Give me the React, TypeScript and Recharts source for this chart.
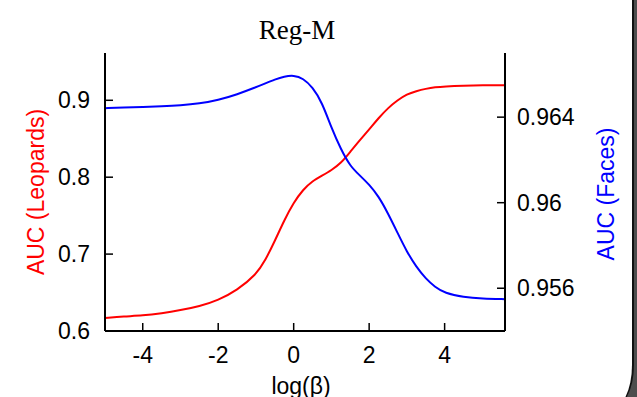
import { LineChart, Line, XAxis, YAxis } from 'recharts'

// log(beta) sample points and the two AUC curves
const logBeta = [
  -5, -4.5, -4, -3.5, -3, -2.5, -2, -1.5, -1, -0.75, -0.5, -0.25, 0, 0.25, 0.5, 0.75,
  1, 1.25, 1.5, 1.75, 2, 2.25, 2.5, 2.75, 3, 3.25, 3.5, 3.75, 4, 4.5, 5, 5.6,
]
const aucLeopards = [
  0.617, 0.619, 0.62, 0.623, 0.627, 0.632, 0.64, 0.653, 0.673, 0.692, 0.717, 0.744, 0.767, 0.784, 0.795, 0.802,
  0.809, 0.818, 0.833, 0.848, 0.862, 0.877, 0.89, 0.9, 0.908, 0.912, 0.915, 0.917, 0.918, 0.919, 0.9195, 0.9195,
]
const aucFaces = [
  0.96442, 0.96445, 0.96448, 0.96451, 0.96455, 0.96463, 0.9648, 0.96506, 0.9654, 0.96558, 0.96576, 0.9659, 0.96596, 0.96582, 0.9654, 0.9647,
  0.9635, 0.9625, 0.9617, 0.96128, 0.96085, 0.9603, 0.9595, 0.9586, 0.9577, 0.957, 0.95645, 0.95605, 0.95578, 0.95558, 0.95551, 0.95549,
]
const xTicks = [-4, -2, 0, 2, 4]
const leftTicks = [0.6, 0.7, 0.8, 0.9]
const rightTicks = [0.956, 0.96, 0.964]

const data = logBeta.map((x, i) => ({ x, leopards: aucLeopards[i], faces: aucFaces[i] }))

const SANS = '"Liberation Sans", Arial, Helvetica, sans-serif'
const tickStyle = { fill: '#000', fontSize: 23, fontFamily: SANS }
const axisLine = { stroke: '#000', strokeWidth: 2 }
const tickLine = { stroke: '#000', strokeWidth: 1.5 }

export default function App() {
  return (
    <div style={{ position: 'absolute', left: 0, top: 0, width: 637, height: 397, overflow: 'hidden', background: '#fff' }}>
      {/* window frame on the right edge */}
      <div style={{ position: 'absolute', left: 600, top: 0, width: 37, height: 397, background: '#4d4d4d' }} />
      <div
        style={{
          position: 'absolute', left: 0, top: -10, width: 632, height: 420,
          background: '#fff', borderRight: '2px solid #111',
          borderBottomRightRadius: '24px 45px',
        }}
      />

      <div style={{ position: 'absolute', left: 0, top: 0 }}>
        <LineChart width={637} height={397} data={data} margin={{ top: 53, right: 0, bottom: 0, left: 0 }}>
          <XAxis
            dataKey="x"
            type="number"
            domain={[-5, 5.6]}
            allowDataOverflow
            ticks={xTicks}
            height={66}
            tickSize={-8}
            tickMargin={24}
            tick={tickStyle}
            axisLine={axisLine}
            tickLine={tickLine}
          />
          <XAxis
            xAxisId="top"
            orientation="top"
            dataKey="x"
            type="number"
            domain={[-5, 5.6]}
            allowDataOverflow
            ticks={xTicks}
            height={0}
            tickSize={-8}
            tick={false}
            axisLine={axisLine}
            tickLine={tickLine}
          />
          <YAxis
            yAxisId="left"
            type="number"
            domain={[0.6, 0.9615]}
            allowDataOverflow
            ticks={leftTicks}
            width={105}
            tickSize={-8}
            tickMargin={23}
            tick={tickStyle}
            axisLine={axisLine}
            tickLine={tickLine}
          />
          <YAxis
            yAxisId="right"
            orientation="right"
            type="number"
            domain={[0.954, 0.967]}
            allowDataOverflow
            ticks={rightTicks}
            width={132}
            tickSize={-8}
            tickMargin={20}
            tick={tickStyle}
            axisLine={axisLine}
            tickLine={tickLine}
          />
          <Line yAxisId="left" type="basis" dataKey="leopards" stroke="#ff0000" strokeWidth={2} dot={false} isAnimationActive={false} />
          <Line yAxisId="right" type="basis" dataKey="faces" stroke="#0000ff" strokeWidth={2} dot={false} isAnimationActive={false} />
        </LineChart>
      </div>

      {/* title and axis titles */}
      <svg width={637} height={397} style={{ position: 'absolute', left: 0, top: 0, pointerEvents: 'none' }}>
        <text x={297} y={39} textAnchor="middle" fontFamily='"Liberation Serif", "Times New Roman", serif' fontSize={27} fill="#000">
          Reg-M
        </text>
        <text x={301} y={394} textAnchor="middle" fontFamily={SANS} fontSize={23} fill="#000">
          log(β)
        </text>
        <text x={43.5} y={192} transform="rotate(-90 43.5 192)" textAnchor="middle" fontFamily={SANS} fontSize={23} fill="#ff0000">
          AUC (Leopards)
        </text>
        <text x={614} y={194} transform="rotate(-90 614 194)" textAnchor="middle" fontFamily={SANS} fontSize={23} fill="#0000ff">
          AUC (Faces)
        </text>
      </svg>
    </div>
  )
}
